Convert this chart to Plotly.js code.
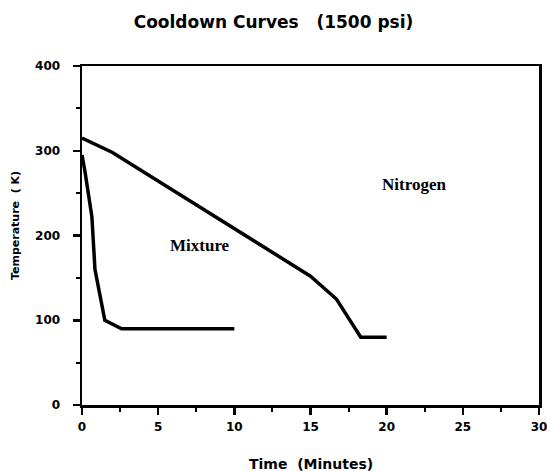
<!DOCTYPE html>
<html><head><meta charset="utf-8">
<script src="https://cdn.plot.ly/plotly-3.0.1.min.js"></script>
<style>html,body{margin:0;padding:0;background:#fff}</style>
</head><body><div id="chart" style="width:547px;height:471px"></div>
<script>
const nitrogenTime = [0, 2, 15, 16.7, 18.3, 20];
const nitrogenTemp = [315, 298, 152, 125, 80, 80];
const mixtureTime = [0, 0.2, 0.65, 0.85, 1.5, 2.6, 10];
const mixtureTemp = [295, 275, 222, 160, 100, 90, 90];
const labelNames = ["Mixture", "Nitrogen"];
const labelX = [7.75, 21.8];
const labelY = [188, 260];

const lineStyle = {color: '#000', width: 3.5};
const traces = [
  {x: nitrogenTime, y: nitrogenTemp, mode: 'lines', line: lineStyle, name: 'Nitrogen'},
  {x: mixtureTime, y: mixtureTemp, mode: 'lines', line: lineStyle, name: 'Mixture'}
];
const sans = 'DejaVu Sans, Arial, sans-serif';
const axisCommon = {
  showgrid: false, zeroline: false, showline: true, linecolor: '#000', linewidth: 2.5,
  mirror: true, ticks: 'outside', ticklen: 7, tickwidth: 2.5, tickcolor: '#000',
  ticklabeloverflow: 'allow',
  tickfont: {family: sans, size: 12, color: '#000', weight: 'bold'},
  minor: {ticks: 'outside', ticklen: 4, tickwidth: 2, tickcolor: '#000'}
};
const annots = labelNames.map((t, i) => ({x: labelX[i], y: labelY[i], text: t, showarrow: false,
    font: {family: 'Liberation Serif, Times New Roman, serif', size: 17, color: '#000', weight: 'bold'}}));
annots.push({xref: 'paper', yref: 'paper', x: 0.5, y: -0.175, yanchor: 'middle', xanchor: 'center',
  text: 'Time  (Minutes)', showarrow: false, font: {family: sans, size: 14, color: '#000', weight: 'bold'}});
annots.push({xref: 'paper', yref: 'paper', x: -0.145, y: 0.53, xanchor: 'center', yanchor: 'middle', textangle: -90,
  text: 'Temperature  ( K)', showarrow: false, font: {family: sans, size: 11, color: '#000', weight: 'bold'}});
const layout = {
  width: 547, height: 471,
  margin: {l: 82, r: 8, t: 66, b: 66},
  paper_bgcolor: '#fff', plot_bgcolor: '#fff',
  showlegend: false,
  title: {text: 'Cooldown Curves   (1500 psi)', x: 0.5, xanchor: 'center', y: 0.953, yanchor: 'middle',
          font: {family: sans, size: 17, color: '#000', weight: 'bold'}},
  xaxis: Object.assign({}, axisCommon, {range: [0, 30], tickvals: [0,5,10,15,20,25,30], ticklabelstandoff: 2,
    minor: Object.assign({}, axisCommon.minor, {dtick: 2.5, tick0: 0})}),
  yaxis: Object.assign({}, axisCommon, {range: [0, 400], tickvals: [0,100,200,300,400], ticklabelstandoff: 10,
    minor: Object.assign({}, axisCommon.minor, {dtick: 50, tick0: 0})}),
  annotations: annots
};
Plotly.newPlot('chart', traces, layout, {displayModeBar: false, staticPlot: true});
</script></body></html>
